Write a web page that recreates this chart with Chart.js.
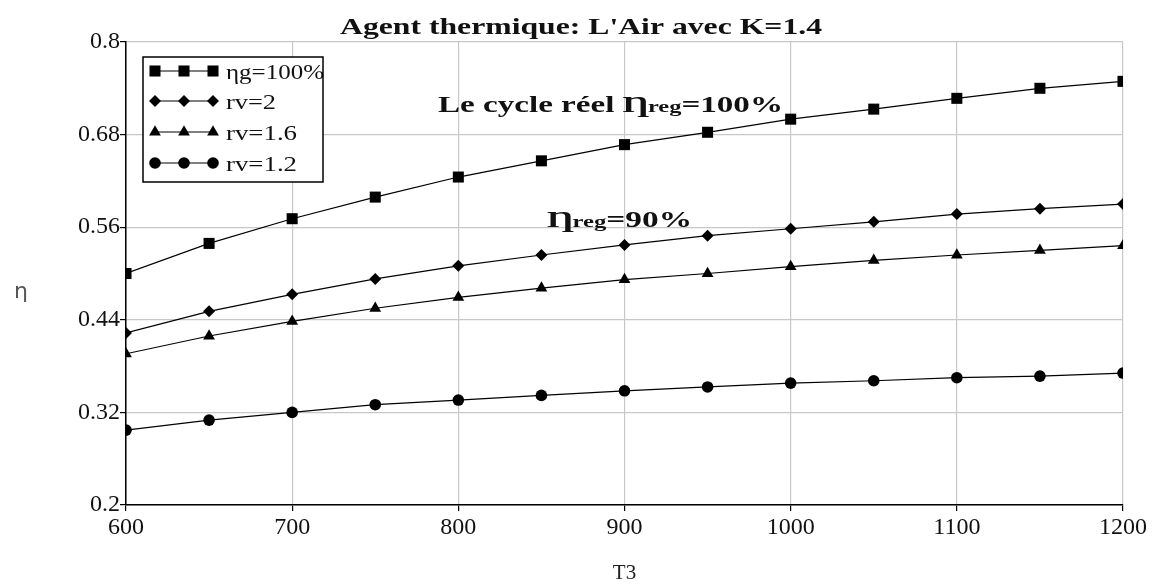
<!DOCTYPE html>
<html>
<head>
<meta charset="utf-8">
<script src="https://cdn.jsdelivr.net/npm/chart.js@4"></script>
<style>
  body { margin: 0; background: #fff; }
  #wrap { width: 1157px; height: 588px; }
</style>
</head>
<body>
<div id="wrap"><canvas id="chart" width="1157" height="588"></canvas></div>
<script>
// T3 values and efficiencies
var temps = [600, 650, 700, 750, 800, 850, 900, 950, 1000, 1050, 1100, 1150, 1200];
var etaG100 = [0.500, 0.539, 0.571, 0.599, 0.625, 0.646, 0.667, 0.683, 0.700, 0.713, 0.727, 0.740, 0.749];
var rv2 = [0.423, 0.451, 0.473, 0.493, 0.510, 0.524, 0.537, 0.549, 0.558, 0.567, 0.577, 0.584, 0.590];
var rv16 = [0.396, 0.419, 0.438, 0.455, 0.469, 0.481, 0.492, 0.500, 0.509, 0.517, 0.524, 0.530, 0.536];
var rv12 = [0.297, 0.310, 0.320, 0.330, 0.336, 0.342, 0.348, 0.353, 0.358, 0.361, 0.365, 0.367, 0.371];
var xTicks = [600, 700, 800, 900, 1000, 1100, 1200];
var yTicks = [0.2, 0.32, 0.44, 0.56, 0.68, 0.8];
var seriesNames = ['ηg=100%', 'rv=2', 'rv=1.6', 'rv=1.2'];
var seriesMarkers = ['rect', 'rectRot', 'triangle', 'circle'];
var markerSizes = [7.8, 6, 6.8, 5.8];

var serif = '"Liberation Serif", "Times New Roman", serif';

function points(vals) {
    return temps.map(function (t, i) { return { x: t, y: vals[i] }; });
}

function makeSet(i, vals) {
    return {
        label: seriesNames[i],
        data: points(vals),
        borderColor: '#000',
        backgroundColor: '#000',
        borderWidth: 1.2,
        pointStyle: seriesMarkers[i],
        pointRadius: markerSizes[i],
        pointBorderWidth: 0,
        tension: 0
    };
}

// the source picture is stretched sideways, so texts are squeezed into their width
function stretchText(ctx, parts, x, y, width) {
    var total = 0;
    parts.forEach(function (p) {
        ctx.font = p[1];
        total += ctx.measureText(p[0]).width;
    });
    var sx = width / total;
    ctx.save();
    ctx.translate(x, y);
    ctx.scale(sx, 1);
    var cx = 0;
    parts.forEach(function (p) {
        ctx.font = p[1];
        ctx.fillText(p[0], cx, 0);
        cx += ctx.measureText(p[0]).width;
    });
    ctx.restore();
}

var textPlugin = {
    id: 'texts',
    afterDraw: function (chart) {
        var ctx = chart.ctx;
        ctx.save();
        ctx.fillStyle = '#111';
        ctx.textAlign = 'left';
        ctx.textBaseline = 'alphabetic';

        var b23 = 'bold 23px ' + serif;
        stretchText(ctx, [["Agent thermique: L'Air avec K=1.4", b23]], 340, 34, 482);

        stretchText(ctx, [['Le cycle réel ', b23], ['Ƞ', 'bold 24px ' + serif],
            ['reg', 'bold 17px ' + serif], ['=100%', b23]], 438, 112, 345);
        stretchText(ctx, [['Ƞ', 'bold 24px ' + serif],
            ['reg', 'bold 17px ' + serif], ['=90%', b23]], 547, 227, 145);

        // y axis title
        ctx.fillStyle = '#555';
        ctx.font = '22px "DejaVu Sans", sans-serif';
        ctx.textAlign = 'center';
        ctx.fillText('η', 21, 298);
        ctx.textAlign = 'left';

        // legend box
        var bx = 143, by = 57, bw = 180, bh = 125;
        ctx.fillStyle = '#fff';
        ctx.fillRect(bx, by, bw, bh);
        var rowsY = [71, 101, 132, 163];
        var textW = [98, 50, 71, 71];
        chart.data.datasets.forEach(function (ds, i) {
            var y = rowsY[i];
            ctx.strokeStyle = '#000';
            ctx.lineWidth = 1.2;
            ctx.beginPath();
            ctx.moveTo(155, y);
            ctx.lineTo(213, y);
            ctx.stroke();
            ctx.fillStyle = '#000';
            [155, 184, 213].forEach(function (mx) {
                Chart.helpers.drawPoint(ctx, {
                    pointStyle: ds.pointStyle,
                    radius: ds.pointRadius,
                    rotation: 0,
                    borderWidth: 0
                }, mx, y);
            });
            ctx.fillStyle = '#111';
            stretchText(ctx, [[ds.label, '22px ' + serif]], 226, y + 8, textW[i]);
        });
        ctx.strokeStyle = '#000';
        ctx.lineWidth = 1.5;
        ctx.strokeRect(bx, by, bw, bh);
        ctx.restore();
    }
};

new Chart(document.getElementById('chart'), {
    type: 'line',
    data: {
        datasets: [
            makeSet(0, etaG100),
            makeSet(1, rv2),
            makeSet(2, rv16),
            makeSet(3, rv12)
        ]
    },
    options: {
        responsive: false,
        animation: false,
        layout: { padding: { top: 42, right: 34, left: 0, bottom: 0 } },
        plugins: {
            legend: { display: false },
            title: { display: false },
            tooltip: { enabled: false }
        },
        scales: {
            x: {
                type: 'linear',
                min: 600,
                max: 1200,
                afterBuildTicks: function (scale) {
                    scale.ticks = xTicks.map(function (v) { return { value: v }; });
                },
                afterFit: function (scale) { scale.height = 83; },
                grid: { color: '#c8c8c8', lineWidth: 1.2, tickColor: '#000', tickLength: 6 },
                border: { color: '#000', width: 1.5 },
                ticks: {
                    color: '#111',
                    font: { family: serif, size: 24 },
                    padding: 2,
                    maxRotation: 0,
                    callback: function (v) { return String(v); }
                },
                title: {
                    display: true,
                    text: 'T3',
                    color: '#222',
                    font: { family: serif, size: 21 },
                    padding: { top: 0, bottom: 2 }
                }
            },
            y: {
                min: 0.2,
                max: 0.8,
                afterBuildTicks: function (scale) {
                    scale.ticks = yTicks.map(function (v) { return { value: v }; });
                },
                afterFit: function (scale) { scale.width = 126; },
                grid: { color: '#c8c8c8', lineWidth: 1.2, tickColor: '#000', tickLength: 6 },
                border: { color: '#000', width: 1.5 },
                ticks: {
                    color: '#111',
                    font: { family: serif, size: 24 },
                    padding: 0,
                    callback: function (v) { return String(+Number(v).toFixed(2)); }
                }
            }
        }
    },
    plugins: [textPlugin]
});
</script>
</body>
</html>
